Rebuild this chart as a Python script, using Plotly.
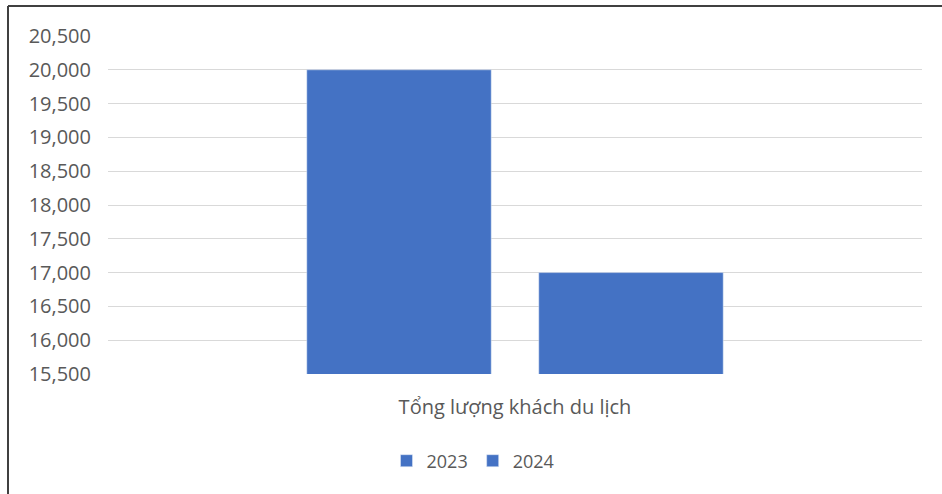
import plotly.graph_objects as go

categories = ["Tổng lượng khách du lịch"]
series_names = ["2023", "2024"]
values_2023 = [20000]
values_2024 = [17000]
tick_vals = [15500, 16000, 16500, 17000, 17500, 18000, 18500, 19000, 19500, 20000, 20500]

BLUE = "#4472C4"
TXT = "#595959"
FONT = "Open Sans"

fig = go.Figure()
fig.add_trace(go.Bar(x=categories, y=values_2023, name=series_names[0], marker_color=BLUE))
fig.add_trace(go.Bar(x=categories, y=values_2024, name=series_names[1], marker_color=BLUE))

L, R, T, B = 108, 20, 36, 120
W, H = 942, 494
pw, ph = W - L - R, H - T - B

fig.update_layout(
    width=W, height=H,
    margin=dict(l=L, r=R, t=T, b=B),
    paper_bgcolor="white", plot_bgcolor="white",
    barmode="group", bargap=0.43, bargroupgap=0.205,
    font=dict(family=FONT, color=TXT, size=18),
    showlegend=True,
    legend=dict(orientation="h", x=(473 - L) / pw, xanchor="center",
                y=(T + ph - 461) / ph, yanchor="middle", itemwidth=30,
                font=dict(size=18, color=TXT), traceorder="normal"),
    xaxis=dict(showgrid=False, showline=False, ticks="", ticklabelstandoff=19,
               tickfont=dict(size=20, color=TXT)),
    yaxis=dict(range=[15500, 20500], tickvals=tick_vals, tickformat=",",
               showgrid=True, gridcolor="#D9D9D9", gridwidth=1, zeroline=False,
               showline=False, ticks="", ticklabelstandoff=16,
               tickfont=dict(size=20, color=TXT)),
)

# chart border (top and left edges visible in the reference)
bx0 = (8 - L) / pw
by1 = 1 + (T - 6) / ph
fig.add_shape(type="line", xref="paper", yref="paper", x0=bx0, x1=1 + (R + 5) / pw, y0=by1, y1=by1,
              line=dict(color="#404040", width=2))
fig.add_shape(type="line", xref="paper", yref="paper", x0=bx0, x1=bx0, y0=by1, y1=-(B + 5) / ph,
              line=dict(color="#404040", width=2))

fig.write_html("out.html", config={"displayModeBar": False},
               post_script="document.body.style.margin='0';document.body.style.overflow='hidden';")
